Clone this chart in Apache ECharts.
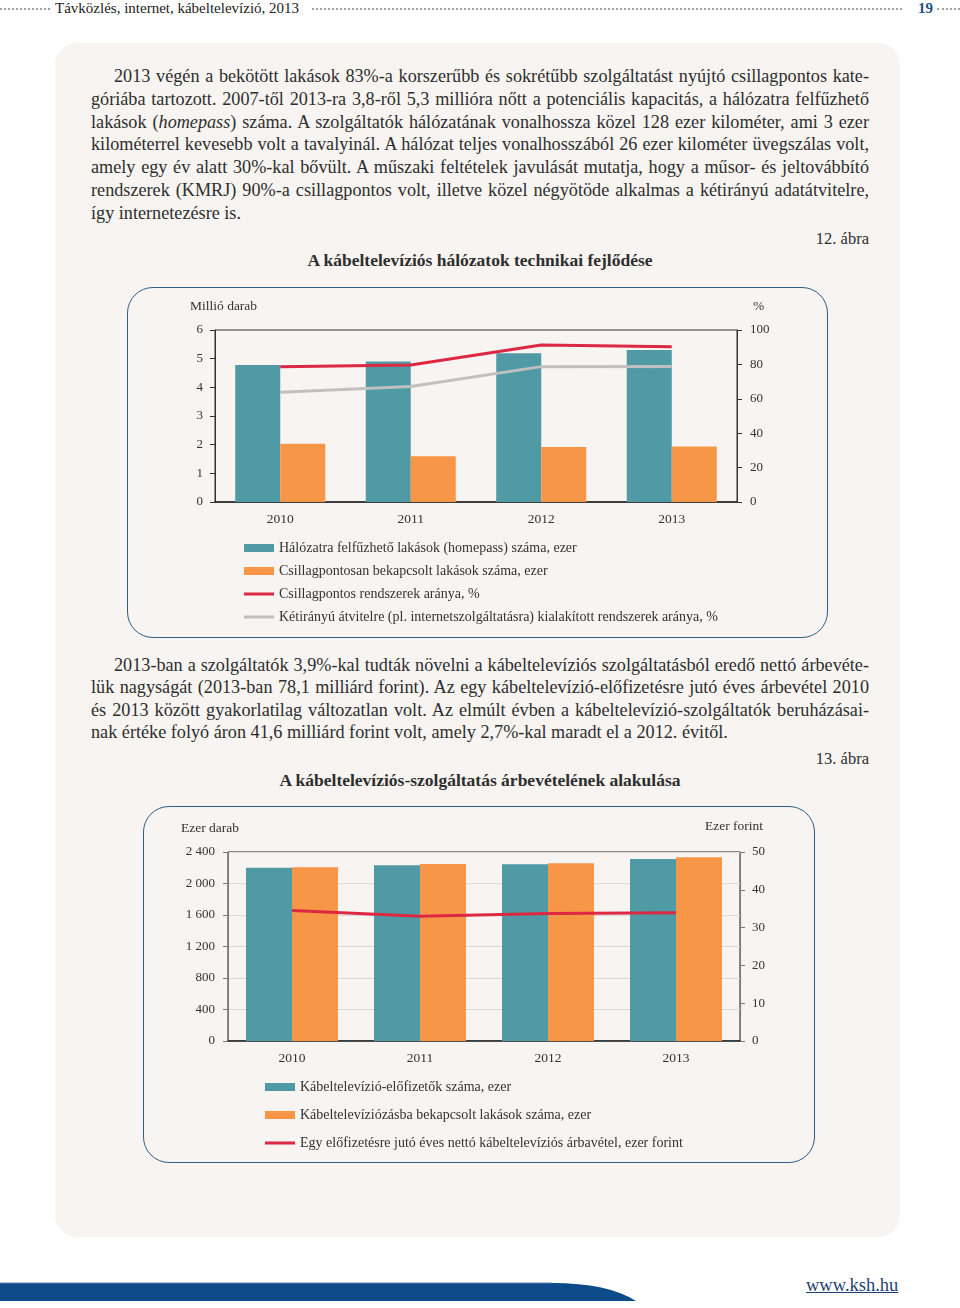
<!DOCTYPE html>
<html><head><meta charset="utf-8">
<script src="https://cdn.jsdelivr.net/npm/echarts@6/dist/echarts.min.js"></script>
<style>
body{margin:0;width:960px;height:1308px;position:relative;background:#fff;font-family:"Liberation Serif","DejaVu Serif",serif;color:#2e2e2e;overflow:hidden}
.abs{position:absolute}
.panel{left:55px;top:43px;width:845px;height:1194px;background:#f7f4f1;border-radius:22px}
.para{left:91px;width:778px;font-size:18.2px}
.ln{white-space:nowrap;text-align:left}
.ind{text-indent:23px}
.p1 .ln{height:22.8px;line-height:22.8px}
.p2 .ln{height:22.4px;line-height:22.4px}
.fig{font-size:16.5px;line-height:20px;right:91px;text-align:right}
.title{font-size:17.5px;line-height:20px;font-weight:bold;left:0;width:960px;text-align:center}
.box{border:1.5px solid #2f5f88;border-radius:26px;box-sizing:border-box}
.dots{height:0;border-top:2px dotted #a0a0a0;top:8px}
</style>
</head><body>
<div class="abs dots" style="left:0;width:50px"></div>
<div class="abs" style="left:55px;top:0px;font-size:15px;line-height:17px;color:#222">Távközlés, internet, kábeltelevízió, 2013</div>
<div class="abs dots" style="left:312px;width:590px"></div>
<div class="abs" style="left:918px;top:0px;font-size:15px;line-height:17px;color:#1f4e8c;font-weight:bold">19</div>
<div class="abs dots" style="left:937px;width:23px"></div>

<div class="abs panel"></div>

<div class="abs para p1" style="top:65px">
<div class="ln ind fit">2013 végén a bekötött lakások 83%-a korszerűbb és sokrétűbb szolgáltatást nyújtó csillagpontos kate-</div>
<div class="ln fit">góriába tartozott. 2007-től 2013-ra 3,8-ről 5,3 millióra nőtt a potenciális kapacitás, a hálózatra felfűzhető</div>
<div class="ln fit">lakások (<i>homepass</i>) száma. A szolgáltatók hálózatának vonalhossza közel 128 ezer kilométer, ami 3 ezer</div>
<div class="ln fit">kilométerrel kevesebb volt a tavalyinál. A hálózat teljes vonalhosszából 26 ezer kilométer üvegszálas volt,</div>
<div class="ln fit">amely egy év alatt 30%-kal bővült. A műszaki feltételek javulását mutatja, hogy a műsor- és jeltovábbító</div>
<div class="ln fit">rendszerek (KMRJ) 90%-a csillagpontos volt, illetve közel négyötöde alkalmas a kétirányú adatátvitelre,</div>
<div class="ln">így internetezésre is.</div>
</div>
<div class="abs fig" style="top:229px">12. ábra</div>
<div class="abs title" style="top:250px">A kábeltelevíziós hálózatok technikai fejlődése</div>

<div class="abs box" style="left:127px;top:287px;width:701px;height:351px"></div>
<div id="c1" class="abs" style="left:127px;top:287px;width:701px;height:351px"></div>

<div class="abs para p2" style="top:654px">
<div class="ln ind fit">2013-ban a szolgáltatók 3,9%-kal tudták növelni a kábeltelevíziós szolgáltatásból eredő nettó árbevéte-</div>
<div class="ln fit">lük nagyságát (2013-ban 78,1 milliárd forint). Az egy kábeltelevízió-előfizetésre jutó éves árbevétel 2010</div>
<div class="ln fit">és 2013 között gyakorlatilag változatlan volt. Az elmúlt évben a kábeltelevízió-szolgáltatók beruházásai-</div>
<div class="ln">nak értéke folyó áron 41,6 milliárd forint volt, amely 2,7%-kal maradt el a 2012. évitől.</div>
</div>
<div class="abs fig" style="top:749px">13. ábra</div>
<div class="abs title" style="top:770px">A kábeltelevíziós-szolgáltatás árbevételének alakulása</div>

<div class="abs box" style="left:143px;top:806px;width:672px;height:357px"></div>
<div id="c2" class="abs" style="left:143px;top:806px;width:672px;height:357px"></div>

<svg class="abs" style="left:0;top:1278px" width="960" height="30">
<path d="M0,5 L552,5 Q608,5 636,23 L0,23 Z" fill="#0c4a8a"/>
<path d="M0,5 L552,5" stroke="#5b86b5" stroke-width="1"/>
</svg>
<div class="abs" style="left:806px;top:1274px;font-size:18.5px;line-height:22px;color:#1d3f73;text-decoration:underline">www.ksh.hu</div>

<script>
// justify each full line exactly to the column width
document.querySelectorAll('.ln.fit').forEach(function (el) {
  el.innerHTML = '<span>' + el.innerHTML + '</span>';
  var w = el.firstChild.getBoundingClientRect().width;
  var target = 778 - (el.classList.contains('ind') ? 23 : 0);
  var n = (el.textContent.match(/ /g) || []).length;
  if (n) el.style.wordSpacing = ((target - w) / n) + 'px';
});

const FONT = '"Liberation Serif", "DejaVu Serif", serif';
const years = ['2010', '2011', '2012', '2013'];

// 12. ábra
const homepassMillion = [4.78, 4.90, 5.19, 5.30];
const starConnectedMillion = [2.03, 1.60, 1.92, 1.94];
const starSystemsPct = [78.7, 79.6, 91.3, 90.2];
const twoWayPct = [63.8, 67.1, 78.7, 78.8];
const c1Names = [
  'Hálózatra felfűzhető lakások (homepass) száma, ezer',
  'Csillagpontosan bekapcsolt lakások száma, ezer',
  'Csillagpontos rendszerek aránya, %',
  'Kétirányú átvitelre (pl. internetszolgáltatásra) kialakított rendszerek aránya, %'
];

// 13. ábra
const subscribersK = [2201, 2231, 2243, 2311];
const connectedHomesK = [2205, 2248, 2256, 2332];
const revenuePerSubK = [34.5, 33.0, 33.7, 33.9];
const c2Names = [
  'Kábeltelevízió-előfizetők száma, ezer',
  'Kábeltelevíziózásba bekapcsolt lakások száma, ezer',
  'Egy előfizetésre jutó éves nettó kábeltelevíziós árbavétel, ezer forint'
];

const TEAL = '#4f9aa4', ORANGE = '#f79646', RED = '#dc2843', GRAY = '#c0c0c0';
const LINE_ICON = 'path://M0,0H30V3H0Z';
const lbl = {color: '#333', fontSize: 13, fontFamily: FONT};
const txt = (x) => Object.assign({}, lbl, x);

const c1 = echarts.init(document.getElementById('c1'), null, {renderer: 'canvas'});
c1.setOption({
  animation: false,
  textStyle: {fontFamily: FONT},
  grid: {left: 88, top: 43, width: 522, height: 172, show: true, borderColor: '#333', borderWidth: 1},
  xAxis: {type: 'category', data: years,
    axisLine: {lineStyle: {color: '#222', width: 1.5}}, axisTick: {show: false},
    axisLabel: txt({margin: 10, fontSize: 13.5})},
  yAxis: [
    {type: 'value', min: 0, max: 6, interval: 1,
      axisLine: {show: true, lineStyle: {color: '#333'}},
      axisTick: {show: true, length: 5, lineStyle: {color: '#333'}},
      splitLine: {show: false}, axisLabel: txt({margin: 12})},
    {type: 'value', min: 0, max: 100, interval: 20, position: 'right',
      axisLine: {show: true, lineStyle: {color: '#333'}},
      axisTick: {show: true, length: 5, lineStyle: {color: '#333'}},
      splitLine: {show: false}, axisLabel: txt({margin: 13})}
  ],
  legend: {orient: 'vertical', left: 117, top: 254, padding: 0, itemWidth: 30, itemHeight: 8, itemGap: 9,
    textStyle: txt({fontSize: 14, lineHeight: 14}),
    data: [{name: c1Names[0], icon: 'rect'}, {name: c1Names[1], icon: 'rect'},
           {name: c1Names[2], icon: LINE_ICON}, {name: c1Names[3], icon: LINE_ICON}]},
  graphic: [
    {type: 'text', left: 63, top: 12, style: {text: 'Millió darab', fill: '#333', font: '13.5px ' + FONT}},
    {type: 'text', left: 626, top: 12, style: {text: '%', fill: '#333', font: '13.5px ' + FONT}}
  ],
  series: [
    {name: c1Names[0], type: 'bar', data: homepassMillion, barWidth: 45, barGap: '0%', itemStyle: {color: TEAL}},
    {name: c1Names[1], type: 'bar', data: starConnectedMillion, barWidth: 45, barGap: '0%', itemStyle: {color: ORANGE}},
    {name: c1Names[2], type: 'line', yAxisIndex: 1, data: starSystemsPct, symbol: 'none', lineStyle: {color: RED, width: 3}, itemStyle: {color: RED}},
    {name: c1Names[3], type: 'line', yAxisIndex: 1, data: twoWayPct, symbol: 'none', lineStyle: {color: GRAY, width: 3}, itemStyle: {color: GRAY}}
  ]
});

const fmtThousands = (v) => String(v).replace(/\B(?=(\d{3})+(?!\d))/g, ' ');
const c2 = echarts.init(document.getElementById('c2'), null, {renderer: 'canvas'});
c2.setOption({
  animation: false,
  textStyle: {fontFamily: FONT},
  grid: {left: 85, top: 46, width: 512, height: 189, show: true, borderColor: '#222', borderWidth: 1},
  xAxis: {type: 'category', data: years,
    axisLine: {lineStyle: {color: '#222', width: 1.5}}, axisTick: {show: false},
    axisLabel: txt({margin: 10, fontSize: 13.5})},
  yAxis: [
    {type: 'value', min: 0, max: 2400, interval: 400,
      axisLine: {show: true, lineStyle: {color: '#777'}},
      axisTick: {show: true, length: 5, lineStyle: {color: '#777'}},
      splitLine: {show: true, lineStyle: {color: '#d9d9d9'}},
      axisLabel: txt({margin: 13, formatter: fmtThousands})},
    {type: 'value', min: 0, max: 50, interval: 10, position: 'right',
      axisLine: {show: true, lineStyle: {color: '#777'}},
      axisTick: {show: true, length: 5, lineStyle: {color: '#777'}},
      splitLine: {show: false}, axisLabel: txt({margin: 12})}
  ],
  legend: {orient: 'vertical', left: 122, top: 274, padding: 0, itemWidth: 30, itemHeight: 8, itemGap: 14,
    textStyle: txt({fontSize: 14, lineHeight: 14}),
    data: [{name: c2Names[0], icon: 'rect'}, {name: c2Names[1], icon: 'rect'}, {name: c2Names[2], icon: LINE_ICON}]},
  graphic: [
    {type: 'text', left: 38, top: 15, style: {text: 'Ezer darab', fill: '#333', font: '13.5px ' + FONT}},
    {type: 'text', right: 52, top: 13, style: {text: 'Ezer forint', fill: '#333', font: '13.5px ' + FONT}}
  ],
  series: [
    {name: c2Names[0], type: 'bar', data: subscribersK, barWidth: 46, barGap: '0%', itemStyle: {color: TEAL}},
    {name: c2Names[1], type: 'bar', data: connectedHomesK, barWidth: 46, barGap: '0%', itemStyle: {color: ORANGE}},
    {name: c2Names[2], type: 'line', yAxisIndex: 1, data: revenuePerSubK, symbol: 'none', lineStyle: {color: RED, width: 3}, itemStyle: {color: RED}}
  ]
});
</script>
</body></html>
